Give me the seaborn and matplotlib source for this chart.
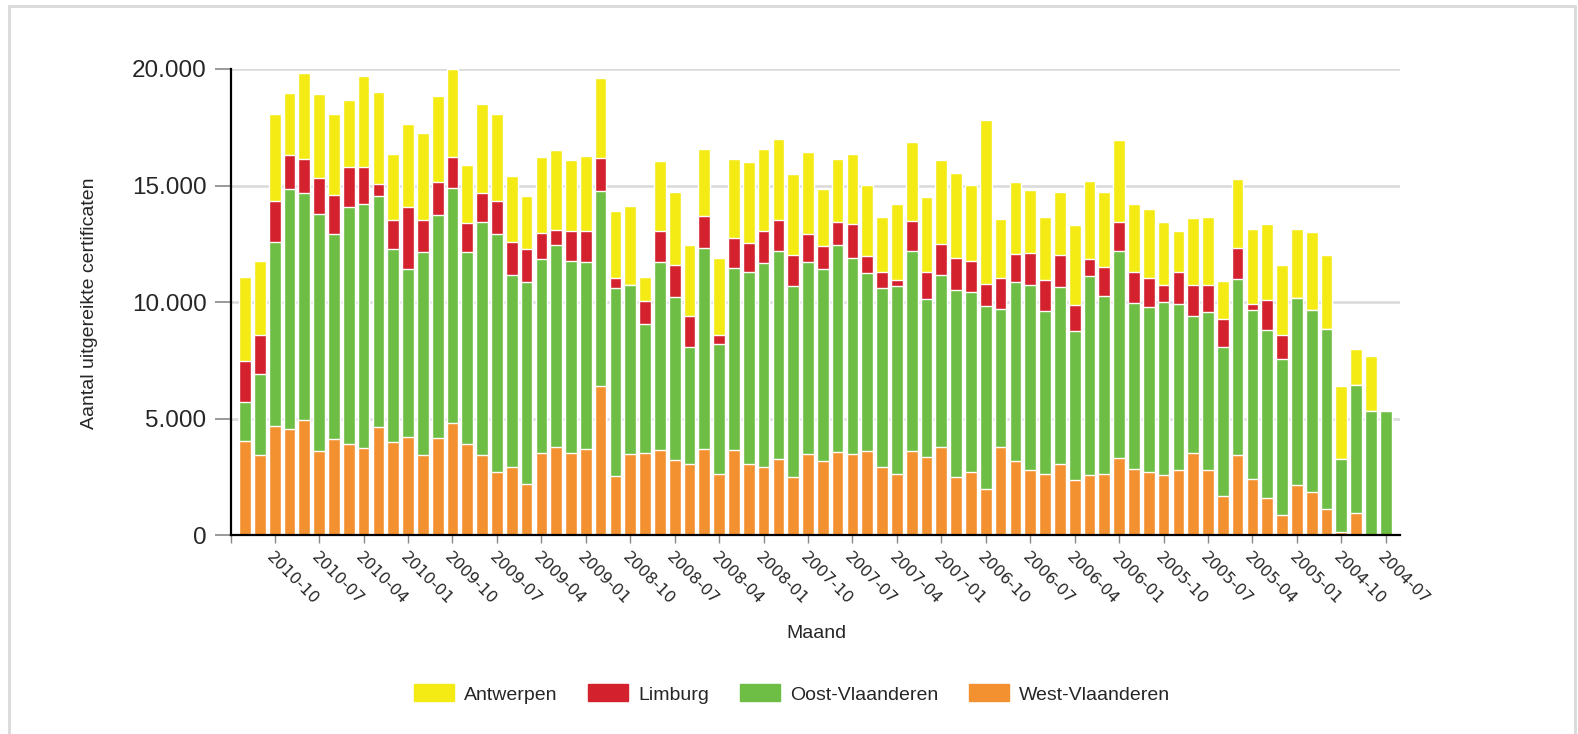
import numpy as np
import pandas as pd
import matplotlib
matplotlib.use("Agg")
import matplotlib.pyplot as plt
import seaborn as sns
from matplotlib.lines import Line2D
from matplotlib.patches import Patch
from matplotlib.ticker import FuncFormatter

# ================= DATA =================

# months from newest (left) to oldest (right)
months = [str(p) for p in pd.period_range("2004-07", "2010-12", freq="M")[::-1]]

tick_labels = [
    "2010-10", "2010-07", "2010-04", "2010-01", "2009-10", "2009-07",
    "2009-04", "2009-01", "2008-10", "2008-07", "2008-04", "2008-01",
    "2007-10", "2007-07", "2007-04", "2007-01", "2006-10", "2006-07",
    "2006-04", "2006-01", "2005-10", "2005-07", "2005-04", "2005-01",
    "2004-10", "2004-07"
]

antwerpen = [3570, 3170, 3730, 2650, 3700, 3600, 3460, 2850, 3900, 3950,
             2850, 3550, 3730, 3700, 3770, 2520, 3820, 3710, 2850, 2240,
             3280, 3430, 3050, 3200, 3460, 2870, 3380, 1030, 3000, 3110,
             3060, 2870, 3300, 3360, 3470, 3550, 3470, 3460, 3550, 2460,
             2730, 3000, 3060, 2350, 3240, 3410, 3190, 3600, 3620, 3240,
             7040, 2540, 3120, 2700, 2710, 2700, 3430, 3310, 3220, 3520,
             2890, 2950, 2700, 1790, 2870, 2930, 1650, 2920, 3240, 3250,
             3030, 2980, 3310, 3160, 3110, 1550, 2350, 0]

limburg = [1780, 1680, 1760, 1440, 1440, 1520, 1650, 1710, 1600, 520,
           1220, 2650, 1410, 1410, 1330, 1220, 1250, 1430, 1400, 1440,
           1090, 630, 1270, 1330, 1410, 430, 0, 970, 1360, 1400,
           1300, 1400, 380, 1300, 1250, 1360, 1360, 1350, 1160, 1000,
           970, 1430, 730, 670, 270, 1280, 1190, 1330, 1410, 1350,
           940, 1350, 1190, 1360, 1360, 1410, 1080, 750, 1270, 1270,
           1360, 1280, 750, 1350, 1350, 1140, 1210, 1330, 240, 1300,
           1020, 0, 0, 0, 0, 0, 0, 0]

oost_vlaanderen = [1650, 3470, 7880, 10310, 9770, 10200, 8820, 10170, 10450, 9910,
                   8310, 7230, 8690, 9530, 10090, 8260, 9980, 10200, 8230, 8630,
                   8310, 8680, 8250, 8060, 8330, 8060, 7280, 5550, 8060, 6950,
                   5040, 8600, 5580, 7800, 8230, 8720, 8900, 8150, 8250, 8200,
                   8870, 8420, 7630, 7690, 8040, 8580, 6770, 7410, 7980, 7720,
                   7840, 5900, 7660, 7910, 6950, 7580, 6420, 8530, 7600, 8870,
                   7110, 7070, 7390, 7120, 5850, 6770, 6390, 7550, 7260, 7190,
                   6680, 8030, 7840, 7720, 3120, 5490, 5350, 5350]

west_vlaanderen = [4060, 3440, 4680, 4550, 4930, 3600, 4120, 3920, 3760, 4650,
                   3980, 4200, 3440, 4190, 4810, 3900, 3440, 2710, 2930, 2220,
                   3550, 3790, 3510, 3680, 6420, 2550, 3470, 3510, 3650, 3250,
                   3050, 3700, 2620, 3660, 3050, 2950, 3280, 2520, 3490, 3200,
                   3580, 3490, 3600, 2920, 2650, 3600, 3350, 3770, 2520, 2710,
                   2000, 3790, 3200, 2820, 2650, 3050, 2360, 2590, 2650, 3310,
                   2840, 2700, 2600, 2810, 3550, 2820, 1670, 3460, 2410, 1600,
                   870, 2140, 1840, 1140, 160, 940, 0, 0]

series = ["Antwerpen", "Limburg", "Oost-Vlaanderen", "West-Vlaanderen"]
colors = {
    "Antwerpen": "#F4EA14",
    "Limburg": "#D3212D",
    "Oost-Vlaanderen": "#6EBD44",
    "West-Vlaanderen": "#F39130",
}

# ================= STACK =================

df = pd.DataFrame({
    "Maand": months,
    "Antwerpen": antwerpen,
    "Limburg": limburg,
    "Oost-Vlaanderen": oost_vlaanderen,
    "West-Vlaanderen": west_vlaanderen,
})

# bottom-up stacking order: West, Oost, Limburg, Antwerpen
df["lvl_west"] = df["West-Vlaanderen"]
df["lvl_oost"] = df["lvl_west"] + df["Oost-Vlaanderen"]
df["lvl_limburg"] = df["lvl_oost"] + df["Limburg"]
df["lvl_antwerpen"] = df["lvl_limburg"] + df["Antwerpen"]

# ================= PLOT =================

sns.set_style("white")
plt.rcParams["font.family"] = ["Liberation Sans", "DejaVu Sans"]

fig = plt.figure(figsize=(15.78, 7.34), dpi=100)
ax = fig.add_axes([0.1462, 0.2707, 0.8872 - 0.1462, 0.9061 - 0.2707])

for col, name in [("lvl_antwerpen", "Antwerpen"),
                  ("lvl_limburg", "Limburg"),
                  ("lvl_oost", "Oost-Vlaanderen"),
                  ("lvl_west", "West-Vlaanderen")]:
    sns.barplot(
        data=df, x="Maand", y=col, order=months,
        color=colors[name], saturation=1, width=0.79,
        errorbar=None, ax=ax, zorder=3
    )

ax.set_xlim(-0.97, len(months) - 0.04)
ax.set_ylim(0, 20000)

# grid
ax.set_yticks([0, 5000, 10000, 15000, 20000])
ax.yaxis.grid(True, color="#d9d9d9", linewidth=1.8, zorder=0)
ax.xaxis.grid(False)
ax.set_axisbelow(True)
ax.yaxis.set_major_formatter(
    FuncFormatter(lambda v, p: f"{int(v):,}".replace(",", "."))
)

# x ticks every 3 months
tick_pos = [months.index(lab) for lab in tick_labels]
ax.set_xticks(tick_pos)
ax.set_xticklabels(tick_labels, rotation=-45, ha="left", va="top",
                   rotation_mode="anchor", fontsize=11.5,
                   family="DejaVu Sans")
ax.set_xticks([-0.97], minor=True)

ax.tick_params(axis="x", which="both", length=6, width=1, color="#888888",
               pad=4, bottom=True)
ax.tick_params(axis="y", length=11.5, width=1.4, color="#999999",
               pad=6, labelsize=17.5, left=True)

for s in ["top", "right"]:
    ax.spines[s].set_visible(False)
for s in ["left", "bottom"]:
    ax.spines[s].set_color("black")
    ax.spines[s].set_linewidth(1.6)
    ax.spines[s].set_zorder(5)

ax.set_xlabel("")
ax.set_ylabel("")

fig.text(90 / 1578, 1 - 303 / 734, "Aantal uitgereikte certificaten",
         rotation=90, ha="center", va="center", fontsize=14)
fig.text(816 / 1578, 1 - 634 / 734, "Maand",
         ha="center", va="center", fontsize=14)

# legend
handles = [Patch(facecolor=colors[s], edgecolor=colors[s], label=s)
           for s in series]
fig.legend(handles=handles, loc="center", ncol=4,
           bbox_to_anchor=(792 / 1578, 1 - 694 / 734),
           frameon=False, fontsize=14, handlelength=2.05,
           handleheight=0.95, handletextpad=0.5, columnspacing=1.6)

# outer frame
frame_kw = dict(transform=fig.transFigure, color="#d9d9d9", linewidth=2)
fig.add_artist(Line2D([9 / 1578, 9 / 1578], [0, 1 - 6 / 734], **frame_kw))
fig.add_artist(Line2D([9 / 1578, 1575 / 1578], [1 - 6 / 734, 1 - 6 / 734], **frame_kw))
fig.add_artist(Line2D([1575 / 1578, 1575 / 1578], [0, 1 - 6 / 734], **frame_kw))

fig.savefig("out.png", dpi=100)
plt.close(fig)
